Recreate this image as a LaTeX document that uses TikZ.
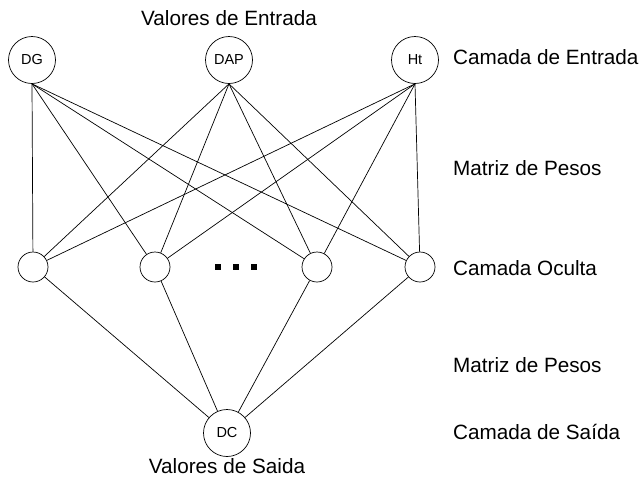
\documentclass[tikz,border=0pt]{standalone}
\usepackage{fontspec}
\setmainfont{Liberation Sans}
\begin{document}
\begin{tikzpicture}[x=1pt, y=-1pt,
	neuron/.style={draw, circle, line width=0.7pt, inner sep=0pt, minimum size=47pt, font=\fontsize{14.5}{17}\selectfont},
	hiddenunit/.style={draw, circle, line width=0.7pt, inner sep=0pt, minimum size=30pt},
	txt/.style={font=\fontsize{20.7}{25}\selectfont, inner sep=0pt},
	link/.style={line width=0.7pt}]
			\useasboundingbox (0,0) rectangle (643,480); % page
			% input layer
			\node[neuron] (DG) at (32,60) {DG};
			\node[neuron] (DAP) at (229,60) {DAP};
			\node[neuron] (Ht) at (415,60) {Ht};
			% hidden layer
			\node[hiddenunit] (h1) at (33,267) {};
			\node[hiddenunit] (h2) at (155,267) {};
			\node[hiddenunit] (h3) at (317,267) {};
			\node[hiddenunit] (h4) at (420,267) {};
			\foreach \x in {218,236,254}
				\fill (\x-3,264) rectangle (\x+3,270); % dots
			% output layer
			\node[neuron] (DC) at (227,433) {DC};
			% weights
			\foreach \i in {DG,DAP,Ht}
				\foreach \j in {h1,h2,h3,h4}
					\draw[link] (\i.south) -- (\j);
			\foreach \j in {h1,h2,h3,h4}
				\draw[link] (\j) -- (DC);
			% labels
			\node[txt] (inval) at (229,18) {Valores de Entrada};
			\node[txt] (outval) at (227,466) {Valores de Saida};
			\node[txt, anchor=west] (inlayer) at (453,57) {Camada de Entrada};
			\node[txt, anchor=west] (w1) at (453,168) {Matriz de Pesos};
			\node[txt, anchor=west] (hidlayer) at (453,268) {Camada Oculta};
			\node[txt, anchor=west] (w2) at (453,365) {Matriz de Pesos};
			\node[txt, anchor=west] (outlayer) at (453,432) {Camada de Saída};
			\end{tikzpicture}
\end{document}
